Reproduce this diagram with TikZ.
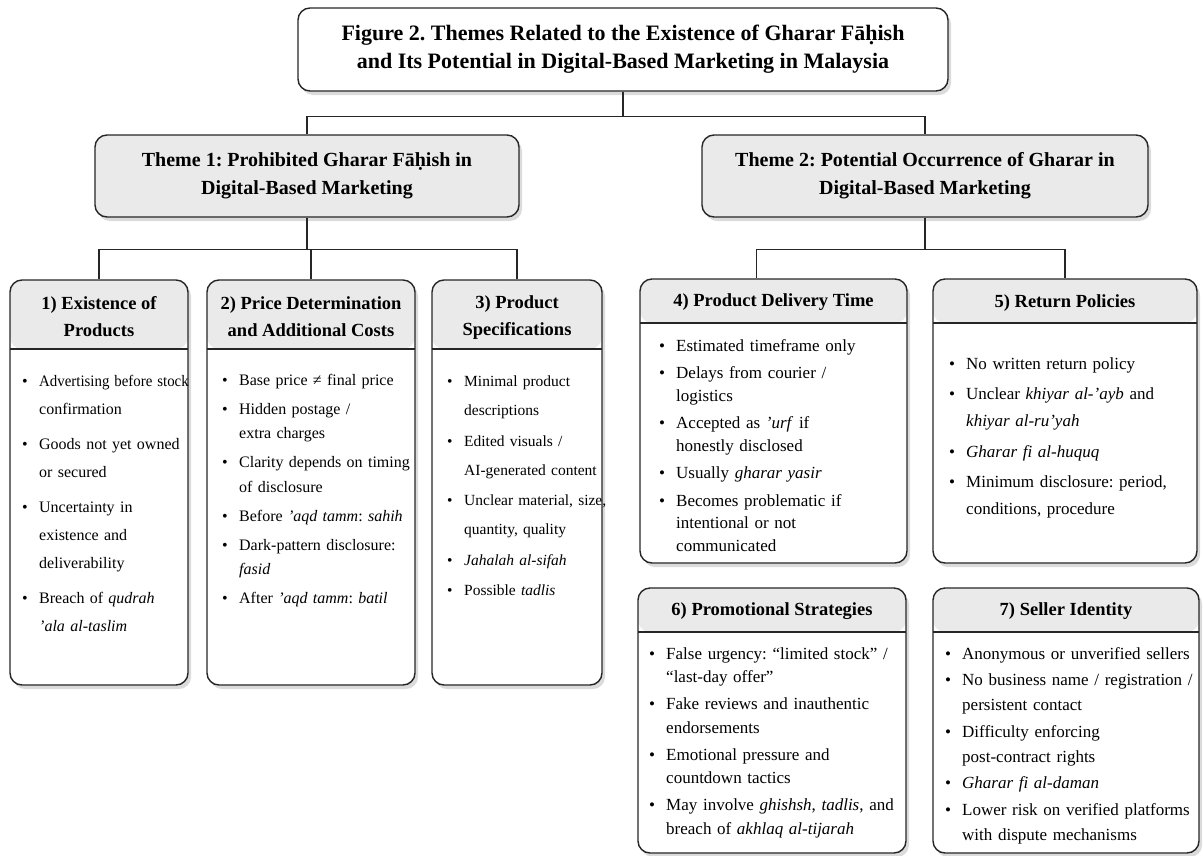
\documentclass[tikz,border=0pt]{standalone}
\usepackage{fontspec}
\usepackage{graphicx}
\setmainfont{Liberation Serif}
\usetikzlibrary{shadows}
\frenchspacing
\definecolor{headfill}{RGB}{234,234,234}
\definecolor{edge}{RGB}{38,38,38}
\newcommand{\bulfirst}{\hangindent=17pt\hangafter=1\noindent\makebox[17pt][l]{\textbullet}}
\newcommand{\bul}{\par\bulfirst}
\tikzset{
  boxbase/.style={draw=edge, line width=1.4pt, rounded corners=12pt, inner sep=0pt,
    drop shadow={shadow xshift=3pt, shadow yshift=-4pt, fill=black!28}},
  titlebox/.style={boxbase, fill=white, align=center,
    font=\bfseries\fontsize{22}{28}\selectfont},
  themebox/.style={boxbase, fill=headfill, align=center,
    font=\bfseries\fontsize{20}{28}\selectfont},
  catbox/.style={boxbase, fill=white,
    path picture={
      \fill[headfill] (path picture bounding box.north west)
        rectangle ([yshift=-#1]path picture bounding box.north east);
      \draw[edge, line width=1.2pt] ([yshift=-#1]path picture bounding box.north west)
        -- ([yshift=-#1]path picture bounding box.north east);}},
  cathead/.style={inner sep=0pt, align=center, font=\bfseries\fontsize{18.5}{27}\selectfont},
  body/.style n args={4}{anchor=north west, inner sep=0pt, text width=#1,
    font=\fontsize{#2}{#3}\selectfont,
    execute at begin node={\raggedright\setlength{\parindent}{0pt}\setlength{\parskip}{#4}}},
  conn/.style={draw=edge, line width=1.4pt}
}
\begin{document}
\begin{tikzpicture}[x=1pt,y=-1pt]
  \useasboundingbox (0,0) rectangle (1203,855);
  % top of the tree
  \node[titlebox, minimum width=650, minimum height=83] (title) at (623,49.5)
    {Figure 2. Themes Related to the Existence of Gharar Fāḥish\\
     and Its Potential in Digital-Based Marketing in Malaysia};
  \node[themebox, minimum width=424, minimum height=82] (th1) at (307,176)
    {Theme 1: Prohibited Gharar Fāḥish in\\Digital-Based Marketing};
  \node[themebox, minimum width=446, minimum height=82] (th2) at (925,176)
    {Theme 2: Potential Occurrence of Gharar in\\Digital-Based Marketing};
  % theme 1 categories
  \node[catbox=69pt, minimum width=178, minimum height=405] (exist) at (99,482.5) {};
  \node[catbox=69pt, minimum width=208, minimum height=405] (price) at (311,482.5) {};
  \node[catbox=69pt, minimum width=170, minimum height=405] (spec) at (517,482.5) {};
  \node[cathead] (exist-h) at (99,316.5) {1) Existence of\\Products};
  \node[cathead] (price-h) at (311,316.5) {2) Price Determination\\and Additional Costs};
  \node[cathead] (spec-h) at (517,317.5) {3) Product\\Specifications};
  \node[body={175pt}{16}{27.8}{7.5pt}] (exist-b) at (22,375) {%
    \bulfirst \scalebox{0.93}[1]{Advertising before stock}\newline confirmation
    \bul Goods not yet owned\newline or secured
    \bul Uncertainty in\newline existence and\newline deliverability
    \bul Breach of \textit{qudrah}\newline\textit{'ala al-taslim}\par};
  \node[body={200pt}{16}{24.5}{4.5pt}] (price-b) at (222,374) {%
    \bulfirst Base price ≠ final price
    \bul Hidden postage /\newline extra charges
    \bul Clarity depends on timing\newline of disclosure
    \bul Before \textit{'aqd tamm}: \textit{sahih}
    \bul Dark-pattern disclosure:\newline\textit{fasid}
    \bul After \textit{'aqd tamm}: \textit{batil}\par};
  \node[body={170pt}{15.5}{29}{1.5pt}] (spec-b) at (447,376) {%
    \bulfirst Minimal product\newline descriptions
    \bul Edited visuals /\newline AI-generated content
    \bul Unclear material, size,\newline quantity, quality
    \bul \textit{Jahalah al-sifah}
    \bul Possible \textit{tadlis}\par};
  % theme 2 categories
  \node[catbox=44pt, minimum width=267, minimum height=284] (deliv) at (773.5,421) {};
  \node[catbox=44pt, minimum width=264, minimum height=284] (retn) at (1065,421) {};
  \node[catbox=44pt, minimum width=268, minimum height=265] (promo) at (772,720.5) {};
  \node[catbox=44pt, minimum width=266, minimum height=265] (seller) at (1066,720.5) {};
  \node[cathead] (deliv-h) at (773.5,302) {4) Product Delivery Time};
  \node[cathead] (retn-h) at (1065,303) {5) Return Policies};
  \node[cathead] (promo-h) at (772,611) {6) Promotional Strategies};
  \node[cathead] (seller-h) at (1066,611) {7) Seller Identity};
  \node[body={245pt}{17}{22.5}{5pt}] (deliv-b) at (659,339) {%
    \bulfirst Estimated timeframe only
    \bul Delays from courier /\newline logistics
    \bul Accepted as \textit{'urf} if\newline honestly disclosed
    \bul Usually \textit{gharar yasir}
    \bul Becomes problematic if\newline intentional or not\newline communicated\par};
  \node[body={245pt}{17}{27}{3.5pt}] (retn-b) at (949,357) {%
    \bulfirst No written return policy
    \bul Unclear \textit{khiyar al-'ayb} and\newline\textit{khiyar al-ru'yah}
    \bul \textit{Gharar fi al-huquq}
    \bul Minimum disclosure: period,\newline conditions, procedure\par};
  \node[body={254pt}{17}{23.5}{3.5pt}] (promo-b) at (649,647) {%
    \bulfirst False urgency: “limited stock” /\newline “last-day offer”
    \bul Fake reviews and inauthentic\newline endorsements
    \bul Emotional pressure and\newline countdown tactics
    \bul May involve \textit{ghishsh}, \textit{tadlis}, and\newline breach of \textit{akhlaq al-tijarah}\par};
  \node[body={250pt}{17}{25}{1.5pt}] (seller-b) at (945,647) {%
    \bulfirst Anonymous or unverified sellers
    \bul No business name / registration /\newline persistent contact
    \bul Difficulty enforcing\newline post-contract rights
    \bul \textit{Gharar fi al-daman}
    \bul Lower risk on verified platforms\newline with dispute mechanisms\par};
  % connectors
  \draw[conn] (title.south) -- ++(0,25) coordinate (j0) -| (th1.north);
  \draw[conn] (j0) -| (th2.north);
  \draw[conn] (th1.south) -- ++(0,32) coordinate (j1) -| (exist.north);
  \draw[conn] (j1) -| (spec.north);
  \draw[conn] (j1) -| (price.north);
  \draw[conn] (th2.south) -- ++(0,32) coordinate (j2) -| ([xshift=-17pt]deliv.north);
  \draw[conn] (j2) -| (retn.north);
\end{tikzpicture}
\end{document}
